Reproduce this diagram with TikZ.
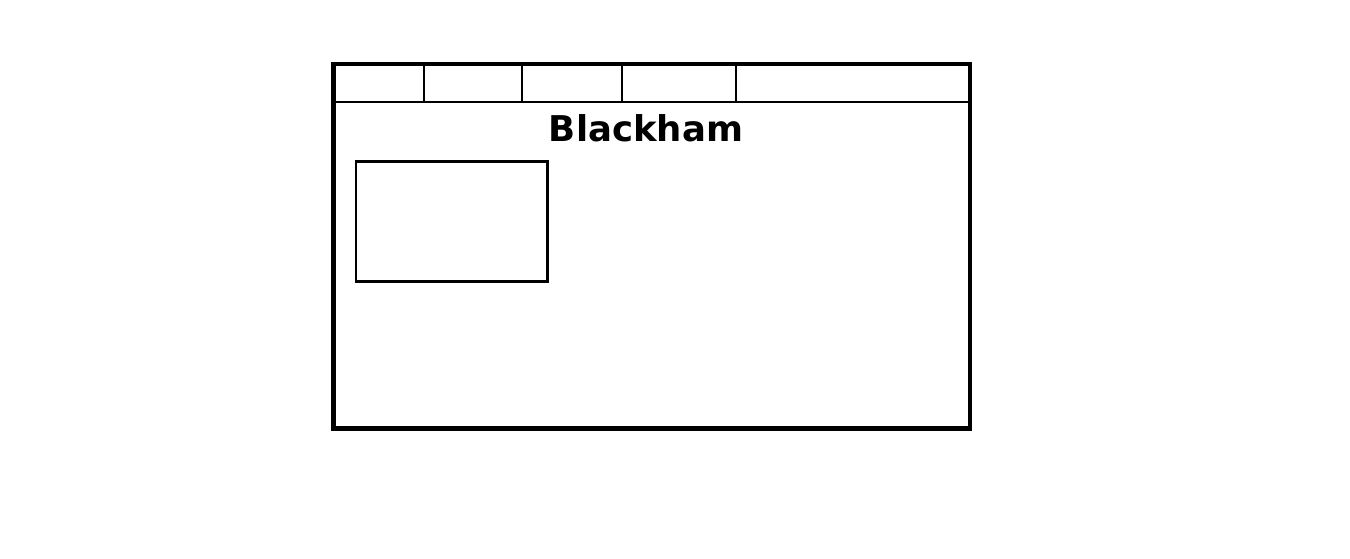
\documentclass[tikz,border=0pt]{standalone}
\usepackage{fontspec}
\setmainfont{DejaVu Sans}
\begin{document}
\begin{tikzpicture}[x=1pt,y=-1pt,
  frame/.style={draw=black,line width=4.5pt},
  thin/.style={draw=black,line width=2.8pt},
  titletext/.style={font=\bfseries\fontsize{35.5}{40}\selectfont,inner sep=0pt,anchor=base}]
\useasboundingbox (0,0) rectangle (1350,559);
% header row line and dividers
\draw[thin] (333.5,102) -- (970,102);
\foreach \x in {424,522,622,736} \draw[thin] (\x,64) -- (\x,102);
% outer frame
\draw[frame] (333.5,64) rectangle (970,428.5);
% title
\node[titletext] (title) at (646,142) {Blackham};
% inner box
\draw[thin] (356,161.5) rectangle (547.5,281.5);
\end{tikzpicture}
\end{document}
